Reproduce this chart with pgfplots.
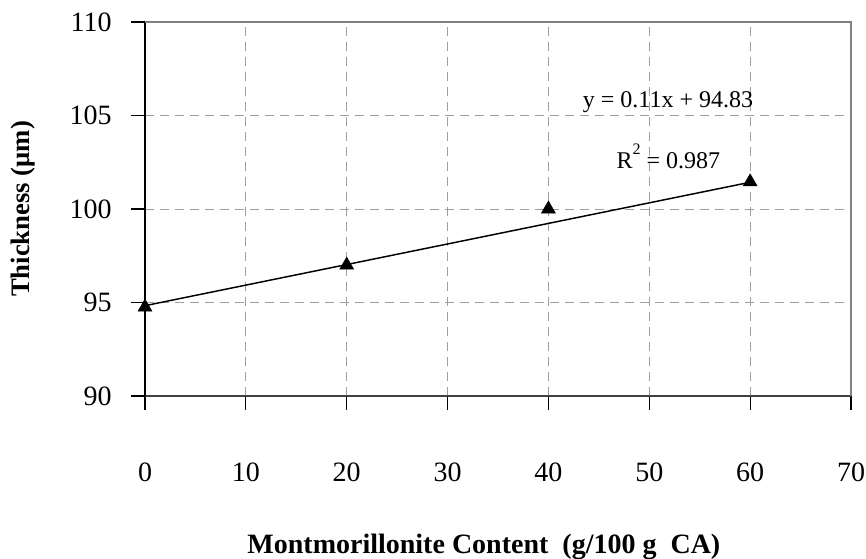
\documentclass[border=0pt]{standalone}
\usepackage{pgfplots}
\pgfplotsset{compat=1.18}
\usepackage{fontspec}
\setmainfont{Liberation Serif}
\pgfplotstableread{
x y
0 94.75
20 97.0
40 100.0
60 101.45
}\datatable
\pgfplotstableread{
x y
0 94.83
60 101.43
}\trendtable
\begin{document}
\begin{tikzpicture}
\path[use as bounding box] (0,0) rectangle (649.5pt,418.5pt);
\begin{axis}[
  at={(108.75pt,121.5pt)}, anchor=south west,
  scale only axis, width=529.5pt, height=280.5pt,
  xmin=0, xmax=70, ymin=90, ymax=110,
  xtick={0,10,...,70}, ytick={90,95,...,110},
  axis x line*=bottom, axis y line*=left,
  clip=false,
  tick align=outside, major tick length=10.5pt,
  x axis line style={draw=black!75, line width=1.1pt, -},
  y axis line style={draw=black, line width=1.1pt, -},
  major tick style={black, line width=0.8pt},
  grid=major,
  major grid style={black!38, dash pattern=on 6.75pt off 4.5pt, line width=0.75pt},
  /pgf/number format/assume math mode=true,
  ticklabel style={font=\fontsize{21}{24}\selectfont},
  xticklabel style={anchor=north, yshift=-36pt},
  yticklabel style={anchor=east, xshift=-11pt},
  xlabel={Montmorillonite Content\ \ (g/100 g\ \ CA)},
  xlabel style={at={(axis description cs:0.48,0)}, anchor=base, yshift=-117.75pt, font=\bfseries\fontsize{21}{24}\selectfont},
  ylabel={Thickness (μm)},
  ylabel style={at={(axis description cs:0,0.5)}, anchor=center, rotate=0, xshift=0pt, yshift=91.5pt, font=\bfseries\fontsize{20}{24}\selectfont},
]
\draw[black!50, line width=1.1pt] (rel axis cs:0,1) -- (rel axis cs:1,1) -- (rel axis cs:1,0);
\addplot[black, line width=1.1pt, no marks] table[x=x, y=y] {\trendtable};
\addplot[only marks, mark=triangle*, mark size=6pt, mark options={fill=black, draw=black}] table[x=x, y=y] {\datatable};
\node[anchor=base, font=\fontsize{18}{21}\selectfont] at (axis cs:51.86,105.45) {y = 0.11x + 94.83};
\node[anchor=base, font=\fontsize{18}{21}\selectfont] at (axis cs:51.9,102.19) {R\raisebox{0.55em}{\fontsize{12}{14}\selectfont 2} = 0.987};
\end{axis}
\end{tikzpicture}
\end{document}
